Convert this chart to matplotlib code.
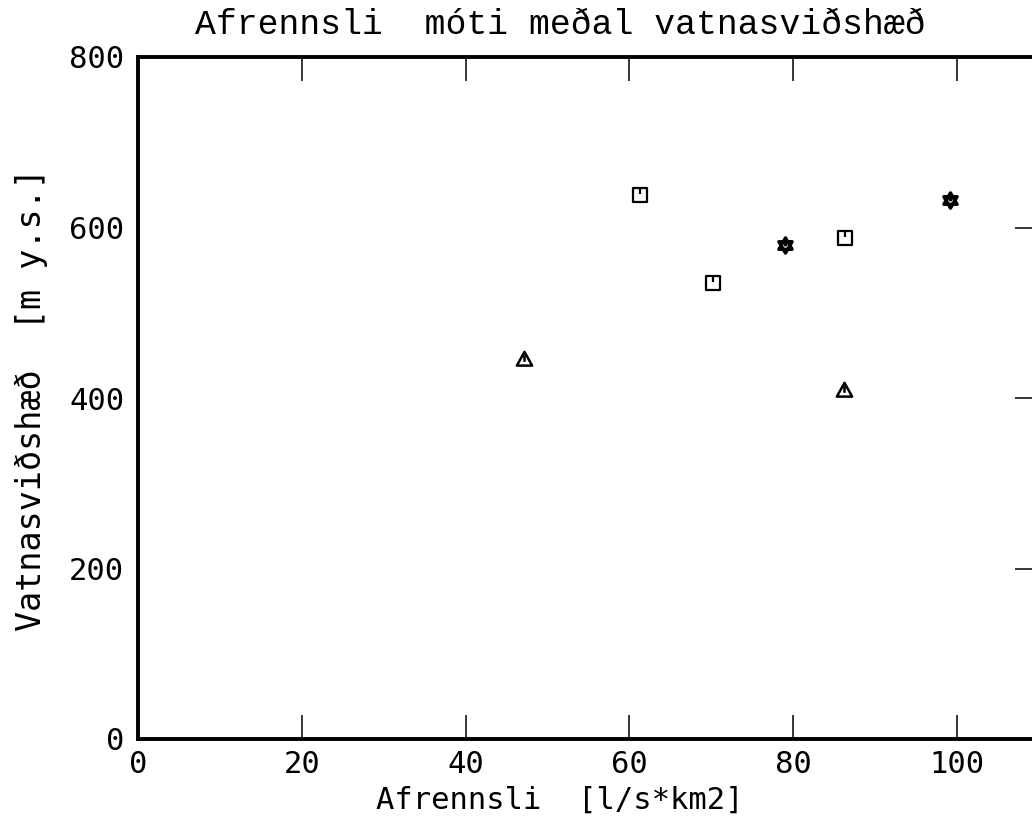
import matplotlib
matplotlib.use("Agg")
import matplotlib.pyplot as plt
from matplotlib.path import Path

# mean catchment altitude against specific runoff, three station groups
sq_x = [61.3, 70.2, 86.3]
sq_y = [638, 535, 588]
star_x = [79.0, 99.1]
star_y = [579, 632]
tri_x = [47.1, 86.2]
tri_y = [446, 409]

x_ticks = [0, 20, 40, 60, 80, 100]
y_ticks = [0, 200, 400, 600, 800]

M, L, C = Path.MOVETO, Path.LINETO, Path.CLOSEPOLY

# plotter-style symbols: open shapes with a short stroke inside
box_mark = Path([(-1, -1), (1, -1), (1, 1), (-1, 1), (-1, -1), (0, 1), (0, 0.15)],
                [M, L, L, L, C, M, L])
tri_mark = Path([(0, 1), (-1, -0.8), (1, -0.8), (0, 1), (0, 0.55), (0, -0.3)],
                [M, L, L, C, M, L])
star_mark = Path([(0, 1), (-0.87, -0.5), (0.87, -0.5), (0, 1),
                  (0, -1), (-0.87, 0.5), (0.87, 0.5), (0, -1),
                  (0, 0.45), (0, -0.1)],
                 [M, L, L, C, M, L, L, C, M, L])

mono = "DejaVu Sans Mono"

fig = plt.figure(figsize=(10.32, 8.25), dpi=100)
ax = fig.add_axes([138 / 1032, 86 / 825, 901 / 1032, 682 / 825])

ax.plot(sq_x, sq_y, linestyle="none", marker=box_mark, markersize=10,
        markerfacecolor="none", markeredgecolor="black", markeredgewidth=1.6)
ax.plot(tri_x, tri_y, linestyle="none", marker=tri_mark, markersize=11,
        markerfacecolor="none", markeredgecolor="black", markeredgewidth=1.8)
ax.plot(star_x, star_y, linestyle="none", marker=star_mark, markersize=11,
        markerfacecolor="none", markeredgecolor="black", markeredgewidth=2.4)

ax.set_xlim(0, 110)
ax.set_ylim(0, 800)

ax.set_xticks(x_ticks)
ax.set_xticklabels([str(v) for v in x_ticks], fontfamily=mono, fontsize=22)
ax.set_yticks(y_ticks)
ax.set_yticklabels([str(v) for v in y_ticks], fontfamily=mono, fontsize=22)

ax.tick_params(axis="x", direction="in", length=17, width=1.1, pad=8,
               top=True, bottom=True)
ax.tick_params(axis="y", direction="in", length=17, width=1.1, pad=10,
               left=False, right=True, labelleft=True)

# the 0 position carries no tick mark on either axis
for t in ax.xaxis.get_major_ticks()[:1] + ax.yaxis.get_major_ticks()[:1]:
    t.tick1line.set_visible(False)
    t.tick2line.set_visible(False)
# 800 coincides with the frame
ax.yaxis.get_major_ticks()[-1].tick2line.set_visible(False)

for side in ["left", "bottom", "top", "right"]:
    ax.spines[side].set_linewidth(2.8)

fig.text(560 / 1032, 1 - 24 / 825, "Afrennsli  móti meðal vatnasviðshæð",
         fontfamily="Liberation Mono", fontsize=25, ha="center", va="center")
fig.text(560 / 1032, 1 - 800 / 825, "Afrennsli  [l/s*km2]",
         fontfamily=mono, fontsize=22, ha="center", va="center")
fig.text(32 / 1032, 1 - 400 / 825, "Vatnasviðshæð  [m y.s.]",
         fontfamily=mono, fontsize=24, ha="center", va="center", rotation=90)

fig.savefig("out.png", dpi=100)
